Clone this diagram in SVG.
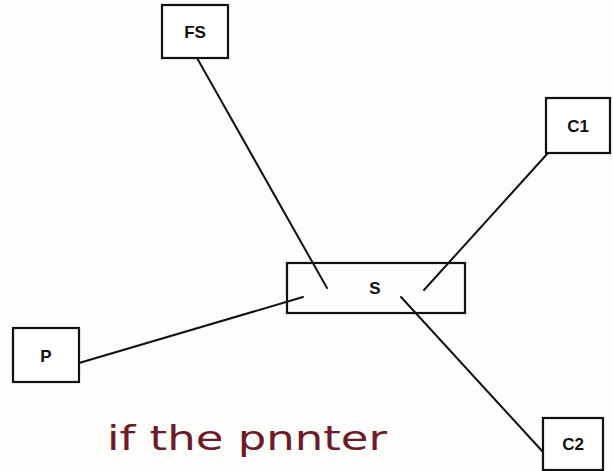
<svg xmlns="http://www.w3.org/2000/svg" width="613" height="471" viewBox="0 0 613 471">
<style>
.box{fill:#fff;stroke:#111;stroke-width:2.2}
.lbl{font-family:"Liberation Sans",Arial,sans-serif;font-weight:bold;font-size:17px;fill:#111;text-anchor:middle;dominant-baseline:central}
.ln{stroke:#111;stroke-width:2;fill:none;stroke-linecap:round}
.hand{font-family:"DejaVu Sans",sans-serif;font-size:34px;fill:#6e1a28;font-weight:normal}
</style>
<rect width="613" height="471" fill="#fdfdfc"/>
<g id="connectors">
<line class="ln" x1="197" y1="58" x2="327" y2="288"/>
<line class="ln" x1="548" y1="153" x2="424" y2="290"/>
<line class="ln" x1="79" y1="363" x2="303" y2="297"/>
<line class="ln" x1="401" y1="297" x2="543" y2="452"/>
</g>
<g id="FS"><rect class="box" x="162" y="5" width="66" height="53"/><text class="lbl" x="195" y="32">FS</text></g>
<g id="C1"><rect class="box" x="546" y="98" width="64" height="55"/><text class="lbl" x="578" y="126">C1</text></g>
<g id="S"><rect class="box" x="287" y="263" width="178" height="50" style="fill:none"/><text class="lbl" x="375" y="288">S</text></g>
<g id="P"><rect class="box" x="13" y="328" width="66" height="54"/><text class="lbl" x="46" y="356">P</text></g>
<g id="C2"><rect class="box" x="543" y="418" width="60" height="52"/><text class="lbl" x="573" y="444">C2</text></g>
<text class="hand" x="107" y="450" textLength="280" lengthAdjust="spacingAndGlyphs">if the pnnter</text>
</svg>
